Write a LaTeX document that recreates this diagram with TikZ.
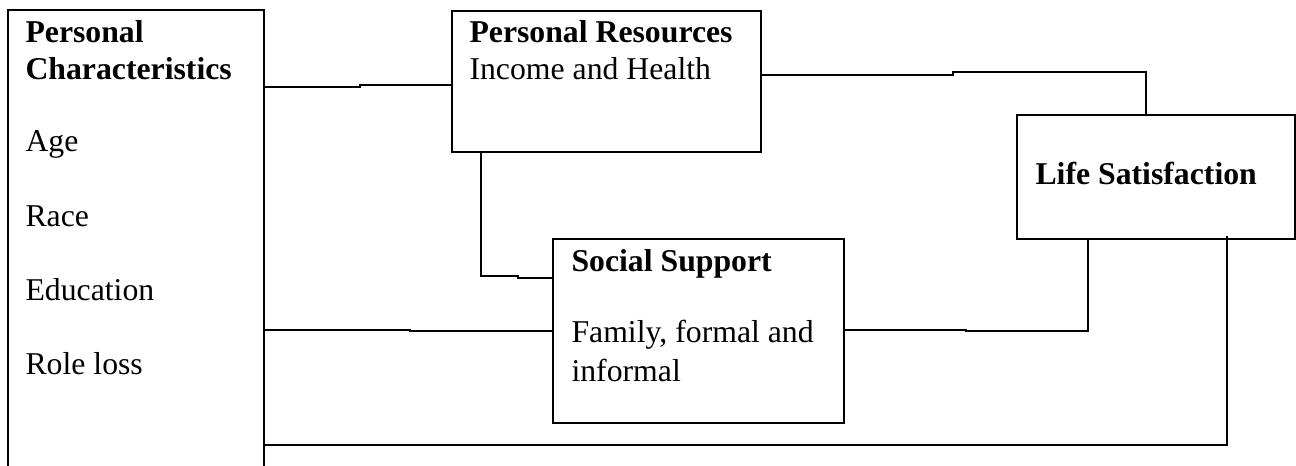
\documentclass[tikz,border=0pt]{standalone}
\usepackage{fontspec}
\setmainfont{Liberation Serif}
\usetikzlibrary{fit}

\tikzset{
  box/.style={draw, line width=.5pt, inner sep=0pt},
  link/.style={line width=.8pt},
  lbl/.style={anchor=base west, inner sep=0pt, font=\fontsize{12}{14}\selectfont},
  head/.style={lbl, font=\fontsize{12}{14}\selectfont\bfseries},
}

\begin{document}
\begin{tikzpicture}[x=.378pt, y=-.378pt]
	
	\clip (0,0) rectangle (1296,466);
	
	% the four boxes
	\node [box, fit={(8,10) (264,480)}] (pchar) {};
	\node [box, fit={(452,11) (761,152)}] (pres) {};
	\node [box, fit={(553,239) (844,423)}] (ssup) {};
	\node [box, fit={(1017,115) (1295,239)}] (lsat) {};
	
	% texts
	\node [head] (pchar-t1) at (25,43) {Personal};
	\node [head] (pchar-t2) at (25,80) {Characteristics};
	\foreach \txt/\yy [count=\i] in {Age/152, Race/227, Education/301, Role loss/375}
		\node [lbl] (pchar-i\i) at (25,\yy) {\txt};
	
	\node [head] (pres-t) at (469,43) {Personal Resources};
	\node [lbl] (pres-s) at (469,80) {Income and Health};
	
	\node [head] (ssup-t) at (571,272) {Social Support};
	\node [lbl] (ssup-s1) at (571,343) {Family, formal and};
	\node [lbl] (ssup-s2) at (571,382) {informal};
	
	\node [head] (lsat-t) at (1035,185) {Life Satisfaction};
	
	% connectors
	\draw [link] (pchar.east |- 0,87) -- (360,87) |- (pres.west |- 0,85);
	
	\draw [link] (pres.east |- 0,75) -- (953,75) |- (1146,72) -- (lsat.north -| 1146,0);
	
	\draw [link] (pres.south -| 481,0) |- (518,276) |- (ssup.west |- 0,278);
	
	\draw [link] (pchar.east |- 0,330) -- (410,330) |- (ssup.west |- 0,331);
	
	\draw [link] (ssup.east |- 0,330) -- (966,330) |- (1088,331) -- (lsat.south -| 1088,0);
	
	\draw [link] (pchar.east |- 0,445) -| (lsat.south -| 1227,0) -- ++(0,-4);
	
\end{tikzpicture}
\end{document}
